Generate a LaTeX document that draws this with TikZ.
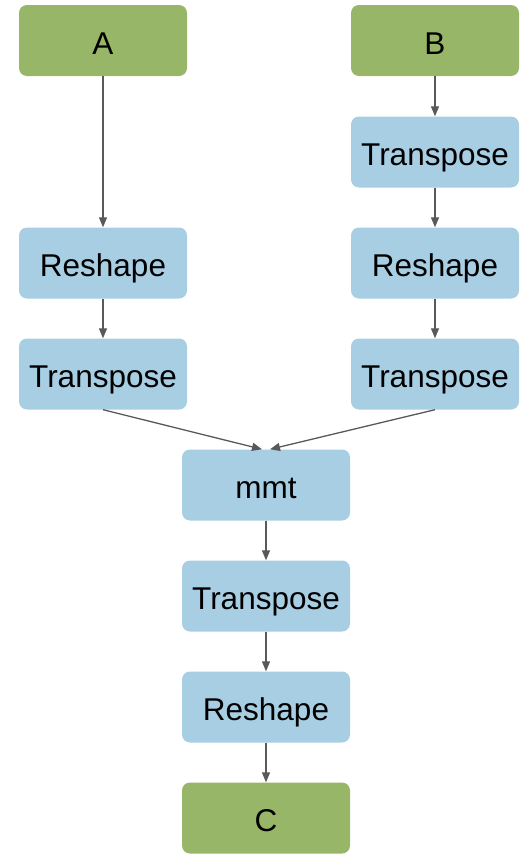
\documentclass[tikz,border=0pt]{standalone}
\usepackage{fontspec}
\setmainfont{Liberation Sans}
\usetikzlibrary{arrows.meta}
\definecolor{iogreen}{HTML}{97B668}
\definecolor{opblue}{HTML}{A7CEE3}
\definecolor{edgegray}{HTML}{595959}
\begin{document}
\begin{tikzpicture}[x=1pt,y=-1pt,
  box/.style={minimum width=168pt,minimum height=71pt,rounded corners=8pt,
    inner sep=0pt,text height=27pt,text depth=0pt,
    font=\fontsize{31.5}{36}\selectfont},
  io/.style={box,fill=iogreen},
  op/.style={box,fill=opblue},
  flow/.style={draw=edgegray,line width=1.3pt,-{Triangle[length=10pt,width=8pt]}}]
\useasboundingbox (0,0) rectangle (522,854);
% inputs
\node[io] (A) at (103,40.5) {A};
\node[io] (B) at (435,40.5) {B};
% left branch
\node[op] (reshL) at (103,263) {Reshape};
\node[op] (transL) at (103,374) {Transpose};
% right branch
\node[op] (transR1) at (435,152) {Transpose};
\node[op] (reshR) at (435,263) {Reshape};
\node[op] (transR2) at (435,374) {Transpose};
% merged tail
\node[op] (mmt) at (266,485) {mmt};
\node[op] (transM) at (266,596) {Transpose};
\node[op] (reshM) at (266,707) {Reshape};
\node[io] (C) at (266,818) {C};
% connectors
\draw[flow] (A) -- (reshL);
\draw[flow] (reshL) -- (transL);
\draw[flow] (B) -- (transR1);
\draw[flow] (transR1) -- (reshR);
\draw[flow] (reshR) -- (transR2);
\draw[flow] (transL.south) -- ([xshift=-4pt]mmt.north);
\draw[flow] (transR2.south) -- ([xshift=4pt]mmt.north);
\draw[flow] (mmt) -- (transM);
\draw[flow] (transM) -- (reshM);
\draw[flow] (reshM) -- (C);
\end{tikzpicture}
\end{document}
